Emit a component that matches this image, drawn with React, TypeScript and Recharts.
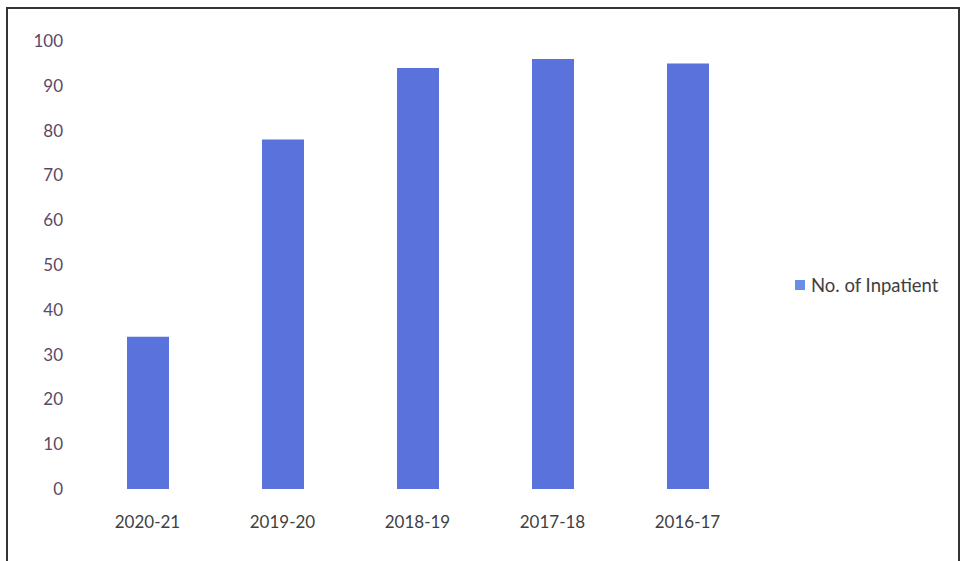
import React from "react";
import { Bar, BarChart, Legend, XAxis, YAxis } from "recharts";

const years = ["2020-21", "2019-20", "2018-19", "2017-18", "2016-17"];
const inpatients = [34, 78, 94, 96, 95];
const yTicks = [0, 10, 20, 30, 40, 50, 60, 70, 80, 90, 100];

const data = years.map((year, i) => ({ year, inpatients: inpatients[i] }));

const font = "Lato, 'Open Sans', sans-serif";

function LegendBox() {
    return (
        <div style={{ display: "flex", alignItems: "center", fontFamily: font, fontSize: 18.5, color: "#404040" }}>
            <span style={{ width: 10, height: 10, background: "#6a8ee6", marginRight: 6, display: "inline-block" }} />
            No. of Inpatient
        </div>
    );
}

export default function App() {
    return (
        <div style={{ position: "absolute", left: 0, top: 0, width: 963, height: 561, background: "#fff", overflow: "hidden" }}>
            <div style={{ position: "absolute", left: 6, top: 7, width: 954, height: 560, border: "2px solid #333", boxSizing: "border-box" }} />
            <BarChart width={963} height={561} data={data} margin={{ top: 41, right: 208, bottom: 42, left: 0 }}>
                <XAxis
                    dataKey="year"
                    axisLine={false}
                    tickLine={false}
                    tickSize={0}
                    tickMargin={27}
                    height={30}
                    tick={{ fill: "#404040", fontSize: 17, fontFamily: font }}
                />
                <YAxis
                    domain={[0, 100]}
                    ticks={yTicks}
                    axisLine={false}
                    tickLine={false}
                    tickSize={0}
                    tickMargin={17}
                    width={80}
                    tick={{ fill: "#5a4a66", fontSize: 17, fontFamily: font }}
                />
                <Legend
                    align="center"
                    verticalAlign="middle"
                    layout="horizontal"
                    content={() => <LegendBox />}
                    wrapperStyle={{ left: 795, top: 274, width: 165 }}
                />
                <Bar dataKey="inpatients" name="No. of Inpatient" fill="#5a72dc" barSize={42} isAnimationActive={false} />
            </BarChart>
        </div>
    );
}
